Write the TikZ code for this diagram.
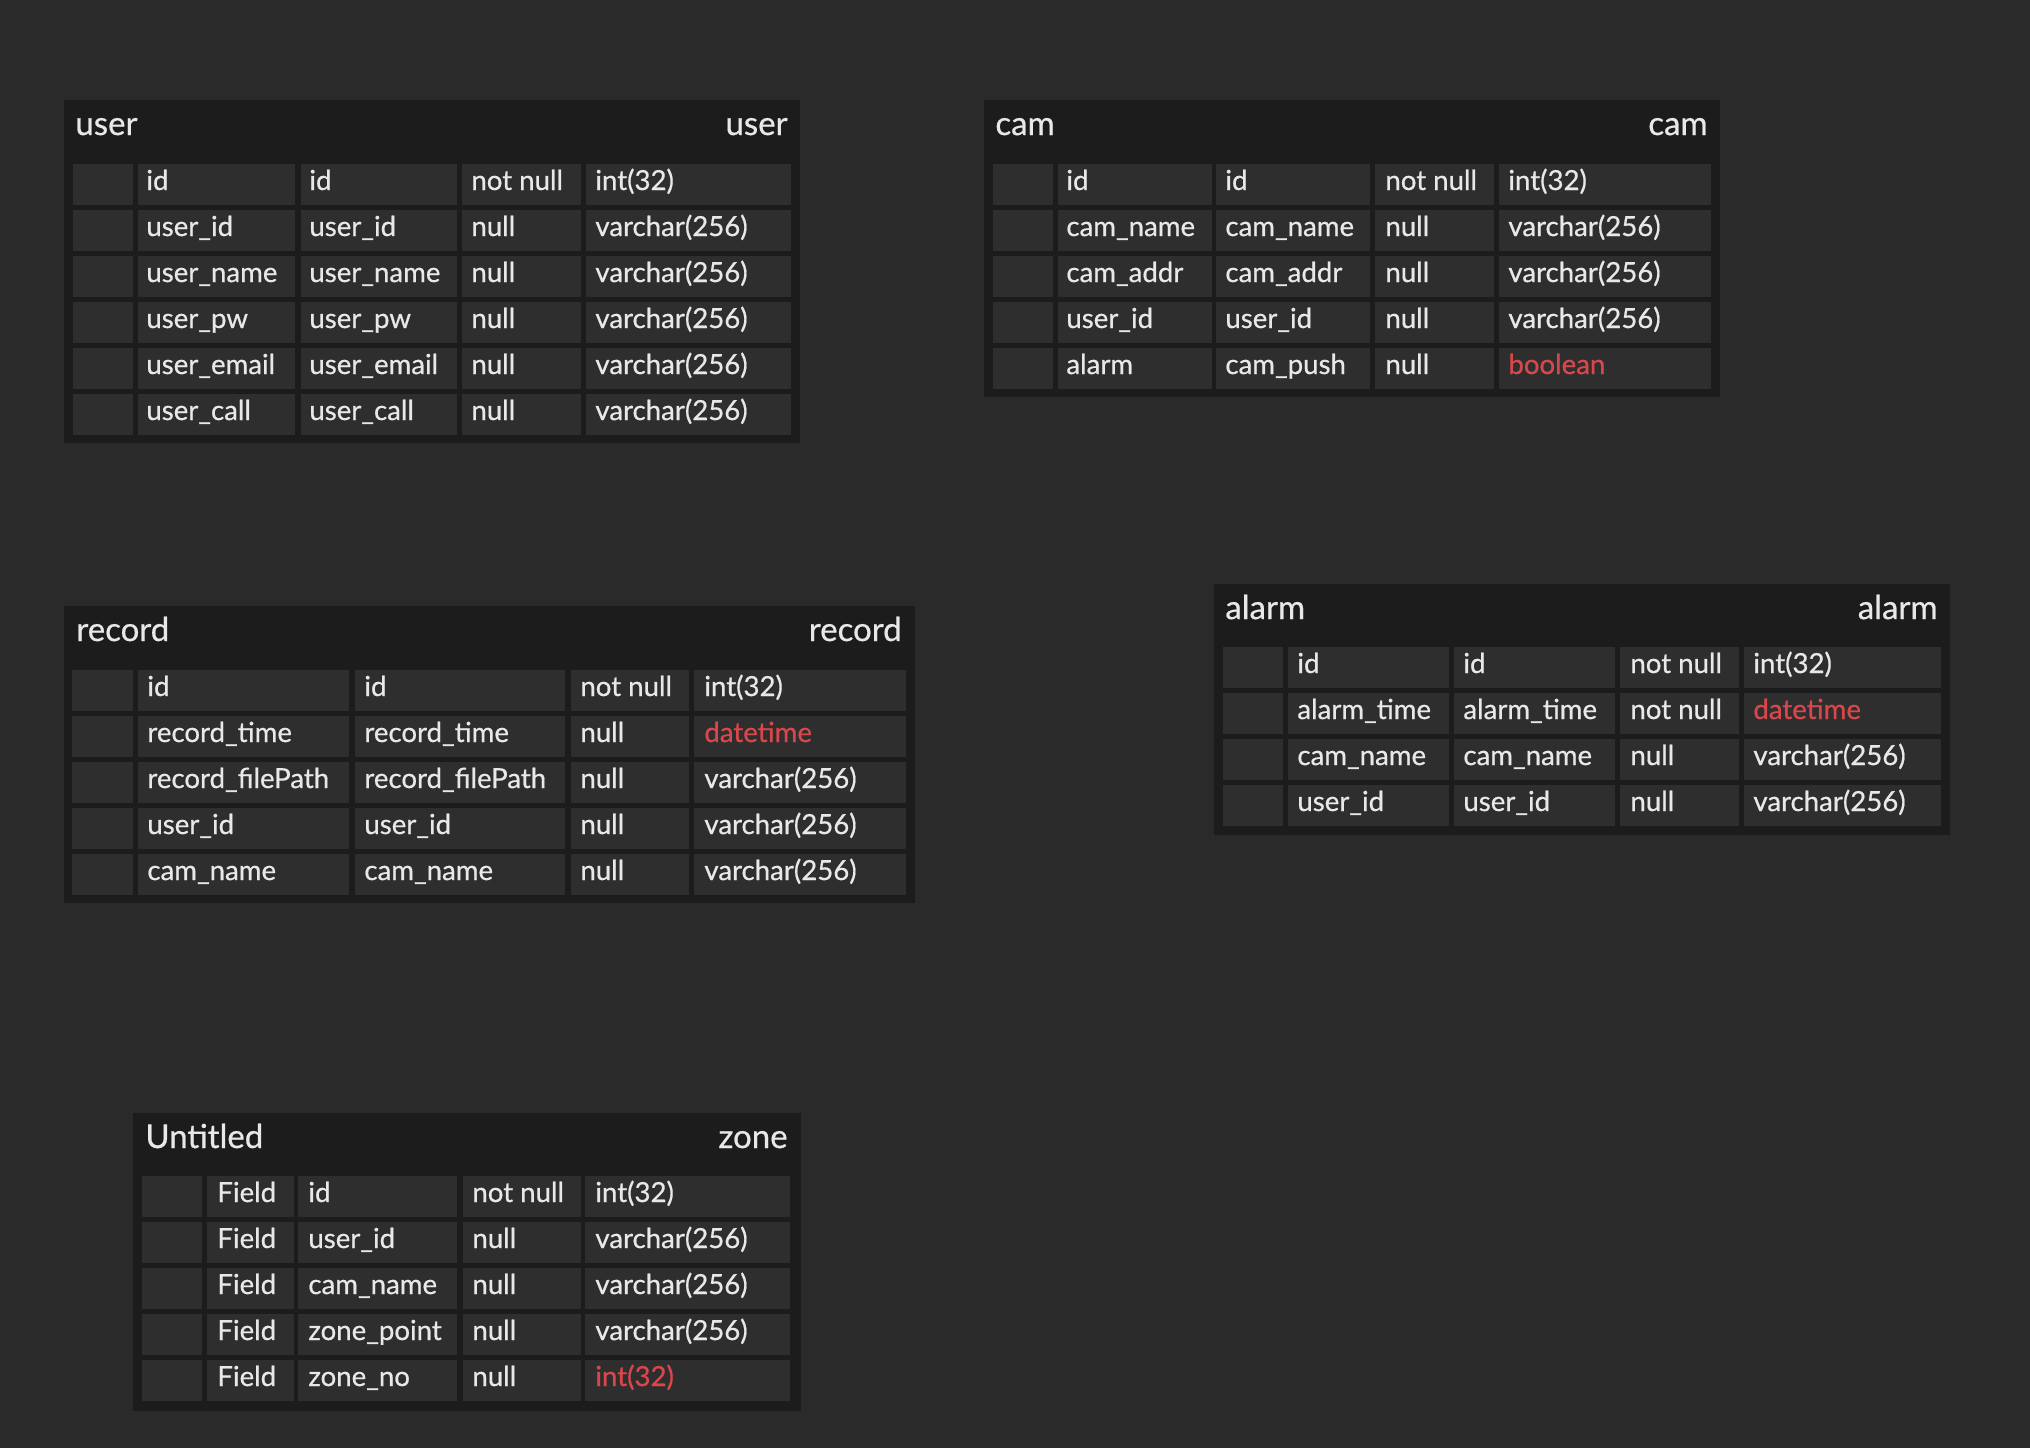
\documentclass[tikz,border=0pt]{standalone}
\usepackage{fontspec}
\setmainfont{Lato}[FakeBold=0.6]
\usepackage{tikz}

\definecolor{bggray}{HTML}{2A2A2A}
\definecolor{tabgray}{HTML}{1C1C1C}
\definecolor{cellgray}{HTML}{2E2E2E}
\definecolor{txtgray}{HTML}{E8E8E8}
\definecolor{typered}{HTML}{D9474C}

\tikzset{
	tablebg/.style={fill=tabgray},
	cell/.style={fill=cellgray},
	field/.style={text=txtgray, font=\fontsize{13.8}{16}\selectfont, inner sep=0pt, anchor=base west},
	tabtitle/.style={text=txtgray, font=\fontsize{16.5}{19}\selectfont, inner sep=0pt},
}

\begin{document}
\begin{tikzpicture}[x=0.5pt,y=-0.5pt]
	\useasboundingbox (0,0) rectangle (2030,1448);
	\fill[bggray] (0,0) rectangle (2030,1448);

	% user
	\fill[tablebg] (64,100) rectangle (800,443);
	\node[tabtitle, anchor=base west] (user-left) at (75,135) {user};
	\node[tabtitle, anchor=base east] (user-right) at (788,135) {user};
	\foreach \i/\a/\b/\c/\d/\k in {1/id/id/not null/int(32)/txtgray,
		2/user\_id/user\_id/null/varchar(256)/txtgray,
		3/user\_name/user\_name/null/varchar(256)/txtgray,
		4/user\_pw/user\_pw/null/varchar(256)/txtgray,
		5/user\_email/user\_email/null/varchar(256)/txtgray,
		6/user\_call/user\_call/null/varchar(256)/txtgray}
	{ \pgfmathsetmacro{\yc}{184.5+46*(\i-1)}
		\foreach \xl/\xr in {73/133,138/295,301/457,462/581,586/791}
			\fill[cell] (\xl,\yc-20.5) rectangle (\xr,\yc+20.5);
		\node[field] (user-\i-a) at (146,\yc+5.5) {\a};
		\node[field] (user-\i-b) at (309,\yc+5.5) {\b};
		\node[field] (user-\i-c) at (471,\yc+5.5) {\c};
		\node[field, text=\k] (user-\i-d) at (595,\yc+5.5) {\d};
	}

	% cam
	\fill[tablebg] (984,100) rectangle (1720,397);
	\node[tabtitle, anchor=base west] (cam-left) at (995,135) {cam};
	\node[tabtitle, anchor=base east] (cam-right) at (1708,135) {cam};
	\foreach \i/\a/\b/\c/\d/\k in {1/id/id/not null/int(32)/txtgray,
		2/cam\_name/cam\_name/null/varchar(256)/txtgray,
		3/cam\_addr/cam\_addr/null/varchar(256)/txtgray,
		4/user\_id/user\_id/null/varchar(256)/txtgray,
		5/alarm/cam\_push/null/boolean/typered}
	{ \pgfmathsetmacro{\yc}{184.5+46*(\i-1)}
		\foreach \xl/\xr in {993/1053,1058/1212,1216/1370,1375/1494,1499/1711}
			\fill[cell] (\xl,\yc-20.5) rectangle (\xr,\yc+20.5);
		\node[field] (cam-\i-a) at (1066,\yc+5.5) {\a};
		\node[field] (cam-\i-b) at (1225,\yc+5.5) {\b};
		\node[field] (cam-\i-c) at (1385,\yc+5.5) {\c};
		\node[field, text=\k] (cam-\i-d) at (1508,\yc+5.5) {\d};
	}

	% record
	\fill[tablebg] (64,606) rectangle (915,903);
	\node[tabtitle, anchor=base west] (record-left) at (76,641) {record};
	\node[tabtitle, anchor=base east] (record-right) at (902,641) {record};
	\foreach \i/\a/\b/\c/\d/\k in {1/id/id/not null/int(32)/txtgray,
		2/record\_time/record\_time/null/datetime/typered,
		3/record\_filePath/record\_filePath/null/varchar(256)/txtgray,
		4/user\_id/user\_id/null/varchar(256)/txtgray,
		5/cam\_name/cam\_name/null/varchar(256)/txtgray}
	{ \pgfmathsetmacro{\yc}{690.5+46*(\i-1)}
		\foreach \xl/\xr in {72/133,138/349,355/565,571/689,694/906}
			\fill[cell] (\xl,\yc-20.5) rectangle (\xr,\yc+20.5);
		\node[field] (record-\i-a) at (147,\yc+5.5) {\a};
		\node[field] (record-\i-b) at (364,\yc+5.5) {\b};
		\node[field] (record-\i-c) at (580,\yc+5.5) {\c};
		\node[field, text=\k] (record-\i-d) at (704,\yc+5.5) {\d};
	}

	% alarm
	\fill[tablebg] (1214,584) rectangle (1950,835);
	\node[tabtitle, anchor=base west] (alarm-left) at (1225,619) {alarm};
	\node[tabtitle, anchor=base east] (alarm-right) at (1938,619) {alarm};
	\foreach \i/\a/\b/\c/\d/\k in {1/id/id/not null/int(32)/txtgray,
		2/alarm\_time/alarm\_time/not null/datetime/typered,
		3/cam\_name/cam\_name/null/varchar(256)/txtgray,
		4/user\_id/user\_id/null/varchar(256)/txtgray}
	{ \pgfmathsetmacro{\yc}{667.5+46*(\i-1)}
		\foreach \xl/\xr in {1223/1283,1288/1449,1454/1615,1620/1739,1744/1941}
			\fill[cell] (\xl,\yc-20.5) rectangle (\xr,\yc+20.5);
		\node[field] (alarm-\i-a) at (1297,\yc+5.5) {\a};
		\node[field] (alarm-\i-b) at (1463,\yc+5.5) {\b};
		\node[field] (alarm-\i-c) at (1630,\yc+5.5) {\c};
		\node[field, text=\k] (alarm-\i-d) at (1753,\yc+5.5) {\d};
	}

	% zone
	\fill[tablebg] (133,1113) rectangle (801,1411);
	\node[tabtitle, anchor=base west] (zone-left) at (145,1148) {Untitled};
	\node[tabtitle, anchor=base east] (zone-right) at (788,1148) {zone};
	\foreach \i/\a/\b/\c/\d/\k in {1/Field/id/not null/int(32)/txtgray,
		2/Field/user\_id/null/varchar(256)/txtgray,
		3/Field/cam\_name/null/varchar(256)/txtgray,
		4/Field/zone\_point/null/varchar(256)/txtgray,
		5/Field/zone\_no/null/int(32)/typered}
	{ \pgfmathsetmacro{\yc}{1196.5+46*(\i-1)}
		\foreach \xl/\xr in {142/202,207/294,298/457,463/581,585/790}
			\fill[cell] (\xl,\yc-20.5) rectangle (\xr,\yc+20.5);
		\node[field] (zone-\i-a) at (217,\yc+5.5) {\a};
		\node[field] (zone-\i-b) at (308,\yc+5.5) {\b};
		\node[field] (zone-\i-c) at (472,\yc+5.5) {\c};
		\node[field, text=\k] (zone-\i-d) at (595,\yc+5.5) {\d};
	}
\end{tikzpicture}
\end{document}
